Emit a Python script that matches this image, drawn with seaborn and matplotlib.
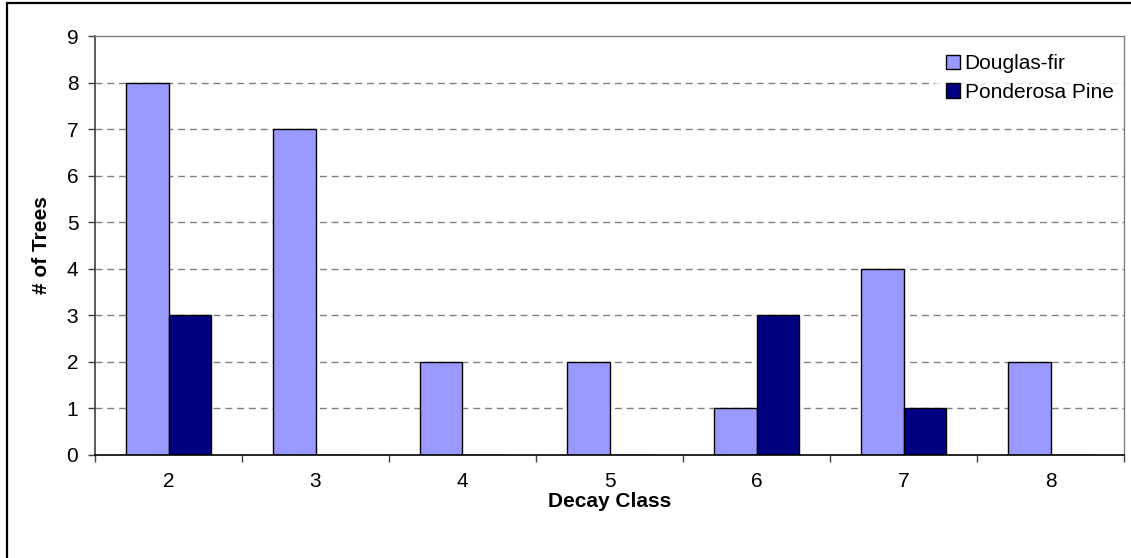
import matplotlib
matplotlib.use("Agg")
import matplotlib.pyplot as plt
from matplotlib.patches import Rectangle
import seaborn as sns
import pandas as pd

# Counts of trees per decay class for each species
decay_classes = ["2", "3", "4", "5", "6", "7", "8"]
douglas_fir = [8, 7, 2, 2, 1, 4, 2]
ponderosa_pine = [3, 0, 0, 0, 3, 1, 0]
species = ["Douglas-fir", "Ponderosa Pine"]
colors = ["#9999FF", "#000080"]

df = pd.DataFrame({
    "Decay Class": decay_classes * 2,
    "# of Trees": douglas_fir + ponderosa_pine,
    "Species": [species[0]] * len(decay_classes) + [species[1]] * len(decay_classes),
})

sns.set_theme(style="white")
plt.rcParams["font.family"] = ["Liberation Sans", "DejaVu Sans"]
plt.rcParams["text.color"] = "black"
plt.rcParams["axes.labelcolor"] = "black"
plt.rcParams["xtick.color"] = "black"
plt.rcParams["ytick.color"] = "black"

fig = plt.figure(figsize=(11.31, 5.58), dpi=100)
ax = fig.add_axes([95 / 1131, 103 / 558, 1029 / 1131, 419 / 558])

sns.barplot(
    data=df, x="Decay Class", y="# of Trees", hue="Species",
    order=decay_classes, hue_order=species, palette=colors,
    width=0.578, gap=0, edgecolor="black", linewidth=1.0,
    saturation=1, ax=ax, zorder=3,
)

ax.set_ylim(0, 9)
ax.set_xlim(-0.5, len(decay_classes) - 0.5)
ax.set_yticks(range(0, 10))

# dashed horizontal gridlines
for y in range(1, 9):
    ax.axhline(y, color="#808080", lw=1.0, ls=(0, (5, 3.5)), zorder=1)

# spines
for side in ["top", "right"]:
    ax.spines[side].set_visible(True)
    ax.spines[side].set_color("#808080")
    ax.spines[side].set_linewidth(1.0)
ax.spines["left"].set_color("#404040")
ax.spines["bottom"].set_color("black")
ax.spines["left"].set_linewidth(1.2)
ax.spines["bottom"].set_linewidth(1.2)
for sp in ax.spines.values():
    sp.set_zorder(10)

# tick marks: y outward, x ticks at category boundaries
ax.tick_params(axis="y", direction="out", length=5, width=1, color="#404040",
               labelsize=15, pad=7, left=True, labelcolor="black")
ax.set_xticks(range(len(decay_classes)))
ax.set_xticklabels(decay_classes)
ax.tick_params(axis="x", which="major", length=0, labelsize=15, pad=12,
               labelcolor="black")
ax.set_xticks([i - 0.5 for i in range(len(decay_classes) + 1)], minor=True)
ax.tick_params(axis="x", which="minor", direction="out", length=5, width=1,
               color="#404040", bottom=True)

ax.set_xlabel("Decay Class", fontsize=15, fontweight="bold", labelpad=1,
              color="black")
ax.set_ylabel("# of Trees", fontsize=15, fontweight="bold", labelpad=11,
              color="black")

leg = ax.legend(
    loc="upper right", bbox_to_anchor=(1.0, 1.0 - 8 / 419), borderaxespad=0,
    fontsize=15, frameon=True, fancybox=False, handlelength=0.67,
    handleheight=0.67, handletextpad=0.25, labelspacing=0.45,
    borderpad=0.5, title=None,
)
leg.get_frame().set_facecolor("white")
leg.get_frame().set_edgecolor("none")
leg.set_zorder(5)
for t in leg.get_texts():
    t.set_color("black")

# outer chart border
fig.patches.append(Rectangle((7 / 1131, -0.1), 1.2, 1 - 3 / 558 + 0.1,
                             transform=fig.transFigure, fill=False,
                             edgecolor="black", linewidth=1.6))

fig.savefig("out.png", dpi=100, facecolor="white")
